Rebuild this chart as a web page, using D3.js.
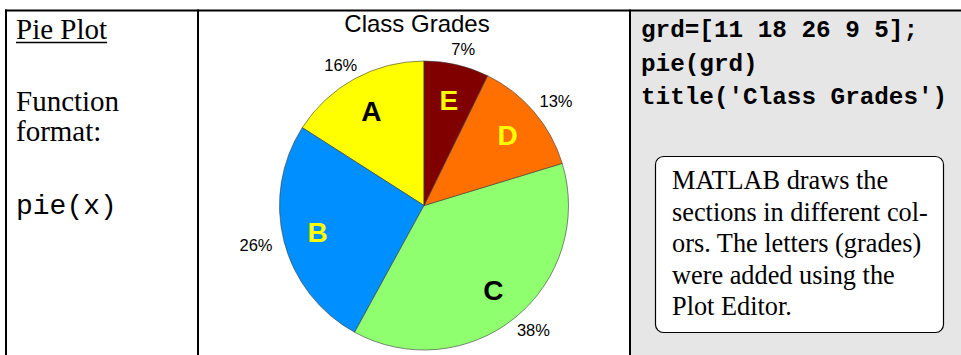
<!DOCTYPE html>
<html>
<head>
<meta charset="utf-8">
<script src="https://cdn.jsdelivr.net/npm/d3@7"></script>
<style>
  html, body { margin: 0; padding: 0; background: #ffffff; }
  svg { display: block; }
</style>
</head>
<body>
<svg id="chart" width="961" height="355"></svg>
<script>
// Grade counts and presentation data
const grades = ["A", "B", "C", "D", "E"];
const grd = [11, 18, 26, 9, 5];
const sliceColors = ["#ffff00", "#008fff", "#8fff70", "#ff7000", "#800000"];
const letterColors = ["#000000", "#ffff00", "#000000", "#ffff00", "#ffff00"];
const chartTitle = "Class Grades";
const headingText = "Pie Plot";
const formatLines = ["Function", "format:"];
const syntaxText = "pie(x)";
const codeLines = ["grd=[11 18 26 9 5];", "pie(grd)", "title('Class Grades')"];
const noteLines = [
  "MATLAB draws the",
  "sections in different col-",
  "ors. The letters (grades)",
  "were added using the",
  "Plot Editor."
];

const SERIF = "'Times New Roman', 'Liberation Serif', serif";
const MONO = "'Courier New', 'Liberation Mono', monospace";
const SANS = "Arial, 'Liberation Sans', Helvetica, sans-serif";

const svg = d3.select("#chart");

// ---- table cells and rules ----
svg.append("rect").attr("x", 631).attr("y", 11).attr("width", 330).attr("height", 344)
  .attr("fill", "#e6e6e6");

const rules = svg.append("g").attr("stroke", "#000").attr("stroke-width", 2);
rules.append("line").attr("x1", 5).attr("x2", 961).attr("y1", 10.5).attr("y2", 10.5);
[6, 198, 630].forEach(x => {
  rules.append("line").attr("x1", x).attr("x2", x).attr("y1", 9.5).attr("y2", 355);
});

// ---- left column ----
const heading = svg.append("text").attr("x", 16).attr("y", 39)
  .attr("font-family", SERIF).attr("font-size", 29).attr("fill", "#000")
  .text(headingText);
const hw = heading.node().getComputedTextLength();
svg.append("line").attr("x1", 16).attr("x2", 16 + hw).attr("y1", 42.5).attr("y2", 42.5)
  .attr("stroke", "#000").attr("stroke-width", 1.5);

svg.selectAll("text.fmt").data(formatLines).join("text")
  .attr("class", "fmt")
  .attr("x", 16).attr("y", (d, i) => 111 + i * 30)
  .attr("font-family", SERIF).attr("font-size", 29).attr("fill", "#000")
  .text(d => d);

svg.append("text").attr("x", 16).attr("y", 214)
  .attr("font-family", MONO).attr("font-size", 28).attr("fill", "#000")
  .text(syntaxText);

// ---- pie chart ----
const cx = 424, cy = 205.5, R = 144.5;
const total = d3.sum(grd);

// MATLAB-style: start at 12 o'clock, proceed counterclockwise
const pie = d3.pie().sort(null).value(d => d)
  .startAngle(0).endAngle(-2 * Math.PI);
const arcs = pie(grd);
const arc = d3.arc().innerRadius(0).outerRadius(R);

const pg = svg.append("g").attr("transform", `translate(${cx},${cy})`);

pg.selectAll("path.slice").data(arcs).join("path")
  .attr("class", "slice")
  .attr("d", arc)
  .attr("fill", (d, i) => sliceColors[i])
  .attr("stroke", "#3a3a3a")
  .attr("stroke-width", 0.6)
  .attr("stroke-linejoin", "round");

const midAngle = d => (d.startAngle + d.endAngle) / 2;

// percentage labels outside the pie
pg.selectAll("text.pct").data(arcs).join("text")
  .attr("class", "pct")
  .attr("x", d => Math.sin(midAngle(d)) * R * 1.2)
  .attr("y", d => -Math.cos(midAngle(d)) * R * 1.11)
  .attr("dy", "0.36em")
  .attr("text-anchor", "middle")
  .attr("font-family", SANS).attr("font-size", 16.5).attr("fill", "#000")
  .text(d => Math.round(d.value / total * 100) + "%");

// grade letters inside the slices
pg.selectAll("text.grade").data(arcs).join("text")
  .attr("class", "grade")
  .attr("x", d => Math.sin(midAngle(d)) * R * 0.76)
  .attr("y", d => -Math.cos(midAngle(d)) * R * 0.75)
  .attr("dy", "0.36em")
  .attr("text-anchor", "middle")
  .attr("font-family", SANS).attr("font-weight", "bold").attr("font-size", 28)
  .attr("fill", (d, i) => letterColors[i])
  .text((d, i) => grades[i]);

// title
svg.append("text").attr("x", 417).attr("y", 32)
  .attr("text-anchor", "middle")
  .attr("font-family", SANS).attr("font-size", 24).attr("fill", "#000")
  .text(chartTitle);

// ---- right column: code and note ----
svg.selectAll("text.code").data(codeLines).join("text")
  .attr("class", "code")
  .attr("x", 641).attr("y", (d, i) => 37 + i * 33.5)
  .attr("font-family", MONO).attr("font-weight", "bold").attr("font-size", 24.3)
  .attr("fill", "#000")
  .attr("xml:space", "preserve")
  .style("white-space", "pre")
  .text(d => d);

svg.append("rect").attr("x", 655.5).attr("y", 156.5).attr("width", 288).attr("height", 176)
  .attr("rx", 8).attr("ry", 8)
  .attr("fill", "#fff").attr("stroke", "#000").attr("stroke-width", 1.2);

svg.selectAll("text.note").data(noteLines).join("text")
  .attr("class", "note")
  .attr("x", 672).attr("y", (d, i) => 189 + i * 31.5)
  .attr("font-family", SERIF).attr("font-size", 26.3).attr("fill", "#000")
  .text(d => d);
</script>
</body>
</html>
